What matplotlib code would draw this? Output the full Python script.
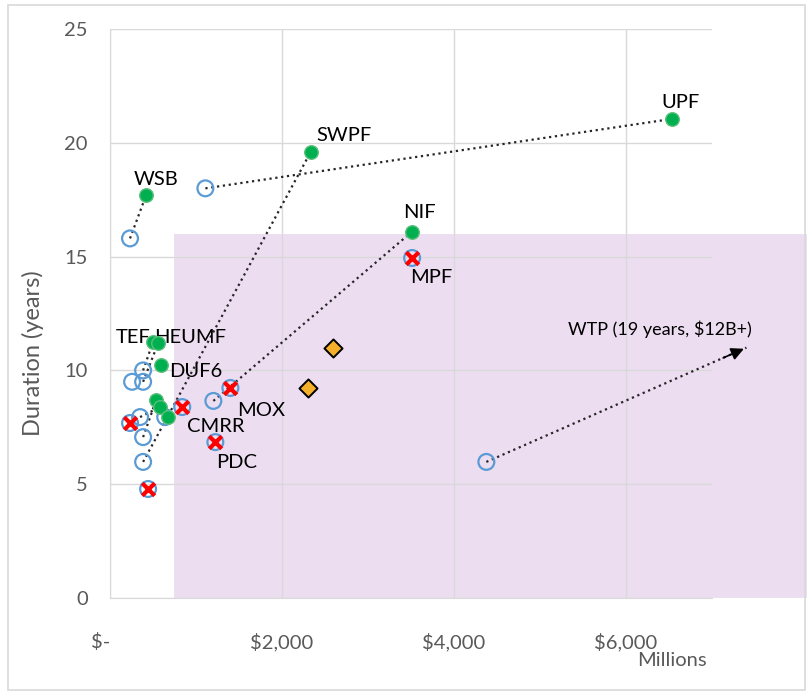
import numpy as np
import matplotlib.pyplot as plt
from matplotlib.patches import Rectangle

plt.rcParams['font.family'] = ['Lato', 'DejaVu Sans']

# original estimates (open circles)
orig_cost = [1109, 233, 385, 257, 385, 350, 385, 385, 642, 1202, 4376]
orig_dur = [18.0, 15.8, 10.0, 9.5, 9.5, 7.95, 7.07, 5.98, 7.95, 8.66, 5.98]

# current estimates (green dots)
cur_names = ["UPF", "SWPF", "WSB", "NIF", "TEF", "HEUMF", "DUF6", "", "", ""]
cur_cost = [6535, 2334, 420, 3513, 500, 560, 595, 537, 583, 677]
cur_dur = [21.05, 19.6, 17.7, 16.1, 11.25, 11.2, 10.24, 8.7, 8.39, 7.95]

# cancelled / terminated (red X)
red_names = ["MPF", "MOX", "CMRR", "PDC", "", ""]
red_cost = [3513, 1400, 840, 1225, 233, 443]
red_dur = [14.94, 9.23, 8.39, 6.85, 7.69, 4.79]

# orange diamonds
dia_cost = [2590, 2300]
dia_dur = [10.98, 9.23]

# dotted links: (original index, current index)
links = [(0, 0), (1, 2), (7, 1), (9, 3), (2, 4), (4, 5), (6, 7), (5, 8)]

# WTP projection
wtp_end = (7400, 11.0)
wtp_label = "WTP (19 years, $12B+)"

# shaded region
shade_x = (740, 8100)
shade_y = (0, 16)

# label offsets in points (dx, dy)
cur_offsets = {"UPF": (6, 12), "SWPF": (24, 12), "WSB": (7, 11), "NIF": (5, 14),
               "TEF": (-14, 3), "HEUMF": (23, 4), "DUF6": (25, -5)}
red_offsets = {"MPF": (14, -14), "MOX": (22, -16), "CMRR": (24, -14), "PDC": (15, -15)}

fig = plt.figure(figsize=(8.07, 6.94), dpi=100)
ax = fig.add_axes([0.1363, 0.1383, 0.746, 0.8199])

fig.patches.append(Rectangle((8 / 807, 4 / 694), 797 / 807, 685 / 694,
                             transform=fig.transFigure, fill=False,
                             edgecolor='#D9D9D9', lw=1.2))

ax.add_patch(Rectangle((shade_x[0], shade_y[0]), shade_x[1] - shade_x[0],
                       shade_y[1] - shade_y[0], facecolor='#A555B9', alpha=0.2,
                       edgecolor='none', clip_on=False, zorder=0.3))

for i, j in links:
    ax.plot([orig_cost[i], cur_cost[j]], [orig_dur[i], cur_dur[j]], ':',
            color='#262626', lw=1.6, zorder=2)

ax.plot([orig_cost[-1], wtp_end[0]], [orig_dur[-1], wtp_end[1]], ':',
        color='#262626', lw=1.6, zorder=2, clip_on=False)
ax.annotate("", xy=wtp_end, xytext=(wtp_end[0] - 300, wtp_end[1] - 0.5),
            arrowprops=dict(arrowstyle='-|>', color='black', lw=1.2,
                            mutation_scale=19),
            annotation_clip=False)
ax.annotate(wtp_label, xy=wtp_end, xytext=(-62, 13), textcoords='offset points',
            ha='center', va='center', fontsize=13, annotation_clip=False)

ax.scatter(orig_cost, orig_dur, s=130, facecolors='none', edgecolors='#5B9BD5',
           linewidths=1.6, zorder=3)
ax.scatter(red_cost, red_dur, s=130, facecolors='none', edgecolors='#5B9BD5',
           linewidths=1.6, zorder=3)
ax.scatter(red_cost, red_dur, s=80, marker='x', color='#FF0000',
           linewidths=3, zorder=4)
ax.scatter(cur_cost, cur_dur, s=95, color='#00B050', edgecolors='#5BBF7A',
           linewidths=1, zorder=4)
ax.scatter(dia_cost, dia_dur, s=85, marker='D', color='#F4B02A',
           edgecolors='black', linewidths=1.4, zorder=4)

for name, x, y in zip(cur_names, cur_cost, cur_dur):
    if name:
        ax.annotate(name, (x, y), xytext=cur_offsets[name], textcoords='offset points',
                    ha='center', va='center', fontsize=14.5)
for name, x, y in zip(red_names, red_cost, red_dur):
    if name:
        ax.annotate(name, (x, y), xytext=red_offsets[name], textcoords='offset points',
                    ha='center', va='center', fontsize=14.5)

ax.set_xlim(0, 7000)
ax.set_ylim(0, 25)
ax.set_xticks([0, 2000, 4000, 6000])
ax.set_xticklabels(["$-", "$2,000", "$4,000", "$6,000"])
ax.get_xticklabels()[0].set_ha('right')
ax.set_yticks([0, 5, 10, 15, 20, 25])
ax.tick_params(length=0, colors='#595959', labelsize=14.5)
ax.tick_params(axis='x', pad=25)
ax.tick_params(axis='y', pad=16)
ax.grid(True, color='#D9D9D9', lw=1)
ax.set_axisbelow(True)
for s in ['top', 'right']:
    ax.spines[s].set_visible(False)
for s in ['left', 'bottom']:
    ax.spines[s].set_color('#D9D9D9')

ax.set_ylabel("Duration (years)", fontsize=17, color='#595959', va='center')
ax.yaxis.set_label_coords(-0.128, 0.43)
ax.text(0.992, -0.11, "Millions", transform=ax.transAxes, ha='right', va='center',
        fontsize=14.5, color='#595959')

fig.savefig("out.png", dpi=100)
